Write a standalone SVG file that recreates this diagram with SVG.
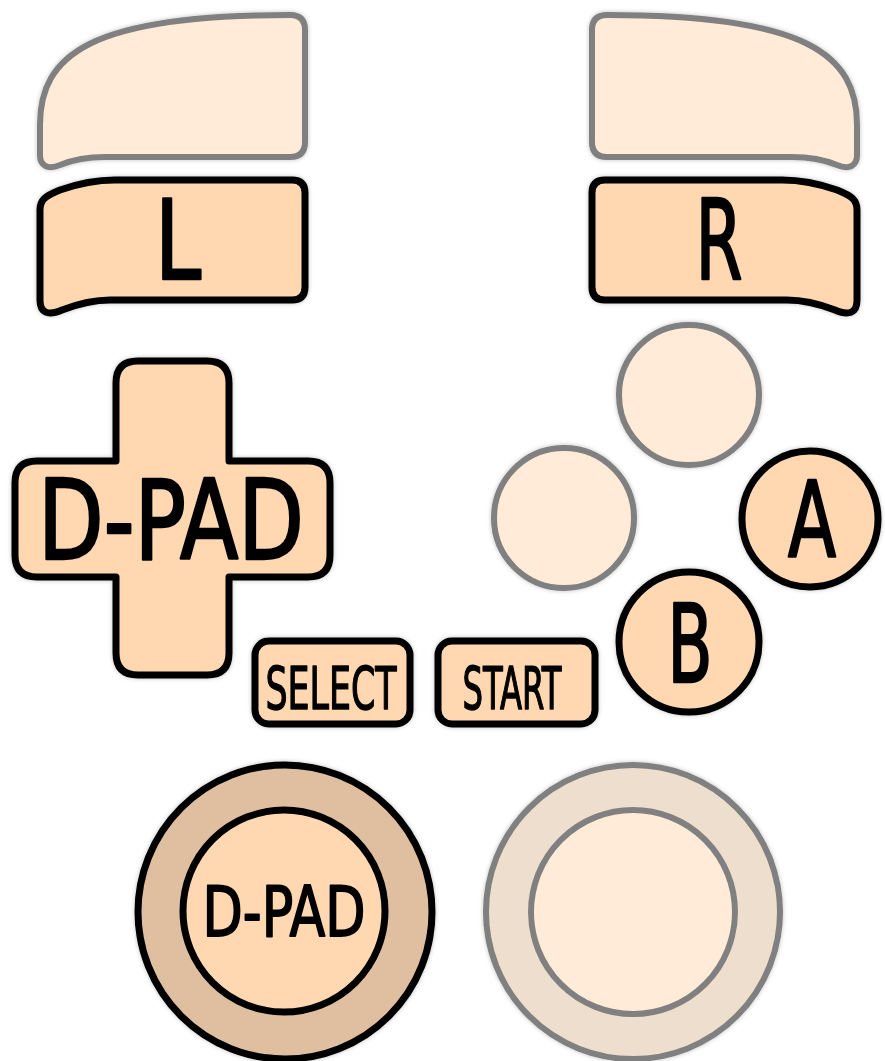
<svg xmlns="http://www.w3.org/2000/svg" width="885" height="1061" viewBox="0 0 885 1061">
<defs>
<filter id="sh" x="-10%" y="-10%" width="120%" height="120%">
<feDropShadow dx="0" dy="0" stdDeviation="2" flood-color="#000" flood-opacity="0.25"/>
</filter>
<style>
.ghost{fill:#FFEBD8;stroke:#808080;stroke-width:6;stroke-linejoin:round}
.btn{fill:#FFD8B2;stroke:#000;stroke-width:7;stroke-linejoin:round}
.lbl{font-family:"DejaVu Sans","Liberation Sans",sans-serif;font-stretch:condensed;fill:#000;stroke:#000;stroke-width:2.4;stroke-linejoin:round;text-anchor:middle}
</style>
<path id="trigTop" d="M40,150 L40,125 C40,55 90,15 290,15 Q305,15 305,30 L305,142 Q305,157 290,157 L105,157 C85,157 72,160 60,165 C48,170 40,166 40,155 Z"/>
<path id="trigBtn" d="M40,210 C40,200 45,196 60,190 C80,183 95,180 115,180 L292,180 Q305,180 305,193 L305,287 Q305,300 292,300 L110,300 C90,300 75,305 62,310 C48,316 40,313 40,300 Z"/>
</defs>
<rect width="885" height="1061" fill="#fff"/>
<g filter="url(#sh)">
<g id="l2"><use href="#trigTop" class="ghost"/></g>
<g id="r2"><use href="#trigTop" class="ghost" transform="translate(897,0) scale(-1,1)"/></g>
<g id="l-btn"><use href="#trigBtn" class="btn"/><text class="lbl" x="178" y="279" font-size="110" textLength="46" lengthAdjust="spacingAndGlyphs">L</text></g>
<g id="r-btn"><use href="#trigBtn" class="btn" transform="translate(897,0) scale(-1,1)"/><text class="lbl" x="719" y="279" font-size="110" textLength="47" lengthAdjust="spacingAndGlyphs">R</text></g>
<g id="dpad">
<path class="btn" d="M138,361 L207,361 Q229,361 229,383 L229,461 L308,461 Q330,461 330,483 L330,555 Q330,577 308,577 L229,577 L229,653 Q229,675 207,675 L138,675 Q116,675 116,653 L116,577 L37,577 Q15,577 15,555 L15,483 Q15,461 37,461 L116,461 L116,383 Q116,361 138,361 Z"/>
<text class="lbl" x="171" y="559" font-size="110" textLength="266" lengthAdjust="spacingAndGlyphs">D-PAD</text>
</g>
<g id="x-btn"><circle class="ghost" cx="689" cy="395" r="70"/></g>
<g id="y-btn"><circle class="ghost" cx="564" cy="518" r="70"/></g>
<g id="a-btn"><circle class="btn" cx="810" cy="519" r="68"/><text class="lbl" x="812" y="557" font-size="105" textLength="48" lengthAdjust="spacingAndGlyphs">A</text></g>
<g id="b-btn"><circle class="btn" cx="689" cy="642" r="70"/><text class="lbl" x="690" y="682" font-size="108" textLength="45" lengthAdjust="spacingAndGlyphs">B</text></g>
<g id="select"><rect class="btn" x="255" y="641" width="155" height="83" rx="14"/><text class="lbl" x="331" y="709" font-size="58" textLength="131" lengthAdjust="spacingAndGlyphs" style="stroke-width:1.4">SELECT</text></g>
<g id="start"><rect class="btn" x="438" y="641" width="157" height="83" rx="14"/><text class="lbl" x="512" y="709" font-size="58" textLength="99" lengthAdjust="spacingAndGlyphs" style="stroke-width:1.4">START</text></g>
<g id="left-stick">
<circle cx="285" cy="912" r="147" fill="#DFBF9F" stroke="#000" stroke-width="7"/>
<circle class="btn" cx="284" cy="911" r="101"/>
<text class="lbl" x="284" y="936" font-size="70" textLength="163" lengthAdjust="spacingAndGlyphs" style="stroke-width:1.8">D-PAD</text>
</g>
<g id="right-stick">
<circle cx="633" cy="912" r="147" fill="#EEDECD" stroke="#808080" stroke-width="6"/>
<circle class="ghost" cx="633" cy="912" r="102"/>
</g>
</g>
<g id="connectors"/>
</svg>
